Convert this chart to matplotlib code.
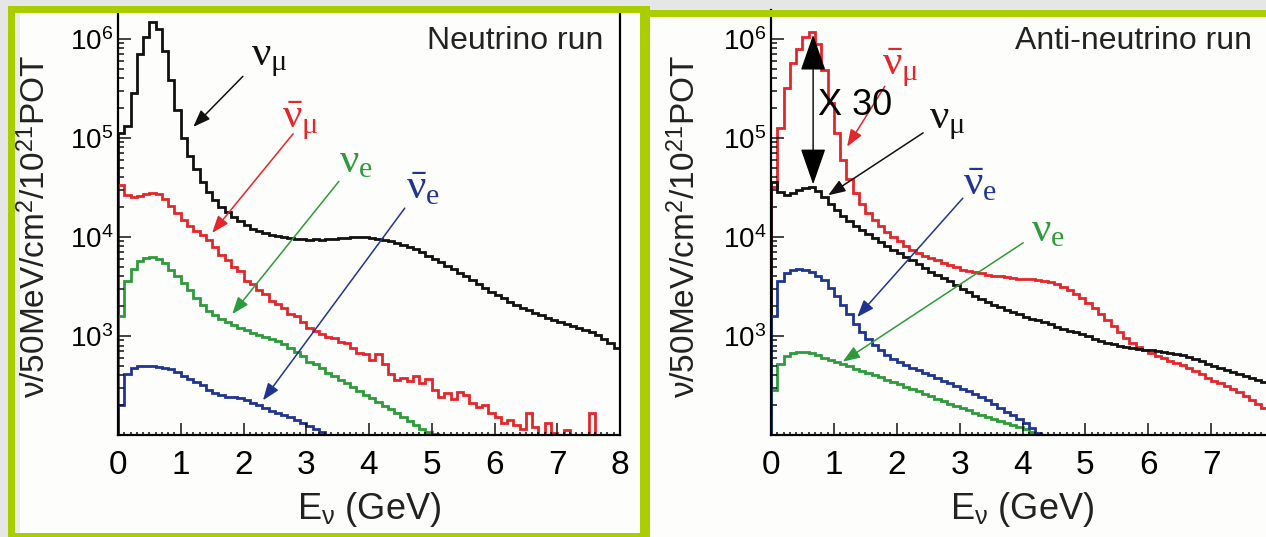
"""
Neutrino flux at the detector: neutrino-mode and anti-neutrino-mode runs.
"""
import matplotlib
matplotlib.use('Agg')
import matplotlib.pyplot as plt
import matplotlib.patches as mpatches
from matplotlib.ticker import MultipleLocator, LogLocator, NullFormatter
import numpy as np

# Colour palette
C_BLACK = "#111111"
C_RED   = "#E3262B"
C_GREEN = "#2F9A3C"
C_BLUE  = "#1F3590"
C_LIME  = "#AACD00"
C_BG    = "#E6E6E6"
C_PAGE  = "#FDFDFB"

plt.rcParams.update({
    'font.family': ['Liberation Sans', 'DejaVu Sans'],
    'mathtext.fontset': 'custom',
    'mathtext.rm': 'Liberation Serif',
    'mathtext.it': 'Liberation Serif:italic',
    'mathtext.bf': 'Liberation Serif:bold',
    'mathtext.sf': 'Liberation Sans',
})

# ── data: log10(flux per 50 MeV / cm^2 / 1e21 POT) in 0.1 GeV bins from 0 GeV;
#    bins past the end of a list are empty
E_EDGES = np.linspace(0.0, 8.0, 81)

# neutrino run
nu_numu = [5.05, 5.12, 5.45, 5.85, 6.02, 6.17, 6.10, 5.88, 5.58, 5.28,
           5.00, 4.82, 4.68, 4.55, 4.45, 4.37, 4.30, 4.25, 4.20, 4.16,
           4.12, 4.08, 4.06, 4.04, 4.02, 4.01, 4.00, 3.99, 3.98, 3.98,
           3.97, 3.98, 3.97, 3.98, 3.98, 3.99, 3.99, 4.00, 4.00, 4.00,
           3.99, 3.98, 3.97, 3.96, 3.94, 3.92, 3.90, 3.88, 3.85, 3.81,
           3.78, 3.75, 3.71, 3.68, 3.64, 3.60, 3.56, 3.52, 3.48, 3.44,
           3.41, 3.38, 3.34, 3.31, 3.28, 3.26, 3.23, 3.21, 3.18, 3.16,
           3.14, 3.12, 3.10, 3.08, 3.06, 3.04, 3.01, 2.97, 2.93, 2.88]
nu_numubar = [4.52, 4.42, 4.40, 4.41, 4.43, 4.44, 4.43, 4.38, 4.31, 4.24,
              4.17, 4.11, 4.06, 4.02, 3.97, 3.90, 3.82, 3.77, 3.70, 3.66,
              3.55, 3.52, 3.46, 3.42, 3.35, 3.32, 3.28, 3.22, 3.20, 3.14,
              3.08, 3.05, 3.02, 2.99, 2.98, 2.94, 2.93, 2.88, 2.83, 2.82,
              2.76, 2.82, 2.72, 2.62, 2.56, 2.58, 2.55, 2.60, 2.52, 2.57,
              2.45, 2.38, 2.42, 2.36, 2.43, 2.40, 2.32, 2.28, 2.30, 2.22,
              2.18, 2.12, 2.15, 2.10, 2.06, 2.22, 2.08, 2.00, 2.12, 2.02,
              1.90, 2.05, 1.90, 1.50, 1.50, 2.22, 1.50, 1.50, 1.50, 1.50]
nu_nue = [3.20, 3.55, 3.68, 3.76, 3.79, 3.80, 3.78, 3.74, 3.67, 3.60,
          3.53, 3.46, 3.38, 3.31, 3.25, 3.21, 3.17, 3.14, 3.11, 3.08,
          3.06, 3.03, 3.01, 2.99, 2.97, 2.95, 2.92, 2.88, 2.84, 2.80,
          2.74, 2.72, 2.68, 2.63, 2.60, 2.56, 2.52, 2.48, 2.44, 2.40,
          2.37, 2.33, 2.29, 2.26, 2.22, 2.18, 2.14, 2.10, 2.06, 2.03,
          2.01, 1.90]
nu_nuebar = [2.30, 2.62, 2.68, 2.70, 2.70, 2.70, 2.69, 2.68, 2.67, 2.64,
             2.60, 2.57, 2.54, 2.50, 2.45, 2.42, 2.40, 2.38, 2.38, 2.37,
             2.35, 2.32, 2.30, 2.27, 2.24, 2.22, 2.20, 2.18, 2.15, 2.12,
             2.09, 2.06, 2.03, 2.00]

# anti-neutrino run
anu_numu = [4.55, 4.45, 4.42, 4.44, 4.47, 4.49, 4.50, 4.46, 4.40, 4.33,
            4.27, 4.21, 4.16, 4.11, 4.07, 4.03, 3.99, 3.95, 3.91, 3.87,
            3.84, 3.80, 3.77, 3.73, 3.69, 3.65, 3.62, 3.58, 3.55, 3.51,
            3.47, 3.44, 3.40, 3.37, 3.34, 3.31, 3.29, 3.26, 3.24, 3.22,
            3.19, 3.17, 3.16, 3.14, 3.12, 3.09, 3.07, 3.05, 3.04, 3.02,
            3.00, 2.97, 2.95, 2.93, 2.92, 2.90, 2.89, 2.88, 2.87, 2.86,
            2.86, 2.85, 2.84, 2.83, 2.82, 2.81, 2.79, 2.77, 2.75, 2.72,
            2.70, 2.68, 2.66, 2.64, 2.62, 2.60, 2.58, 2.56, 2.54, 2.52]
anu_numubar = [4.50, 5.10, 5.50, 5.75, 5.90, 6.02, 6.07, 5.95, 5.68, 5.35,
               5.05, 4.78, 4.58, 4.44, 4.33, 4.24, 4.17, 4.11, 4.05, 4.00,
               3.96, 3.91, 3.87, 3.84, 3.81, 3.79, 3.77, 3.74, 3.72, 3.70,
               3.67, 3.66, 3.65, 3.64, 3.62, 3.61, 3.60, 3.59, 3.58, 3.57,
               3.57, 3.57, 3.56, 3.55, 3.54, 3.52, 3.49, 3.46, 3.42, 3.38,
               3.33, 3.28, 3.22, 3.16, 3.10, 3.04, 2.98, 2.93, 2.89, 2.86,
               2.83, 2.80, 2.78, 2.75, 2.73, 2.71, 2.68, 2.65, 2.62, 2.58,
               2.55, 2.52, 2.49, 2.46, 2.43, 2.39, 2.35, 2.31, 2.27, 2.23]
anu_nuebar = [3.20, 3.55, 3.64, 3.67, 3.68, 3.67, 3.65, 3.61, 3.56, 3.48,
              3.40, 3.31, 3.22, 3.12, 3.04, 2.97, 2.91, 2.86, 2.81, 2.77,
              2.74, 2.71, 2.68, 2.66, 2.63, 2.61, 2.58, 2.55, 2.52, 2.49,
              2.46, 2.44, 2.41, 2.38, 2.35, 2.31, 2.27, 2.23, 2.20, 2.16,
              2.12, 2.07, 2.02]
anu_nue = [2.45, 2.72, 2.80, 2.83, 2.84, 2.84, 2.83, 2.81, 2.78, 2.76,
           2.74, 2.72, 2.70, 2.67, 2.65, 2.63, 2.61, 2.59, 2.56, 2.53,
           2.51, 2.48, 2.46, 2.44, 2.41, 2.39, 2.36, 2.34, 2.31, 2.29,
           2.27, 2.25, 2.22, 2.20, 2.18, 2.16, 2.14, 2.12, 2.10, 2.08,
           2.06, 2.03, 2.00]

Y_MIN, Y_MAX = 1e2, 10 ** 6.29


def flux(log_vals):
    out = np.zeros(len(E_EDGES) - 1)
    out[:len(log_vals)] = 10.0 ** np.asarray(log_vals)
    return out


W, H = 1266, 537
fig = plt.figure(figsize=(W / 100, H / 100), dpi=100)
fig.patch.set_facecolor(C_BG)


def px_rect(x0, y0, x1, y1, color, z):
    """rectangle in image pixels (y measured from the top)"""
    fig.add_artist(mpatches.Rectangle((x0 / W, 1 - y1 / H), (x1 - x0) / W, (y1 - y0) / H,
                                      transform=fig.transFigure, facecolor=color,
                                      edgecolor='none', zorder=z))


# page background and the lime highlight frame
px_rect(8, 6, 650, 540, C_PAGE, -10)
px_rect(650, 10, 1270, 540, C_PAGE, -10)
px_rect(15, 13, 20, 533, "#ECECEC", -9)
px_rect(8, 6, 15, 540, C_LIME, 10)
px_rect(8, 6, 650, 13, C_LIME, 10)
px_rect(640, 6, 650, 540, C_LIME, 10)
px_rect(8, 533, 650, 540, C_LIME, 10)
px_rect(650, 10, 1270, 17, C_LIME, 10)

ax1 = fig.add_axes([118 / W, 1 - 435 / H, 502 / W, 425 / H])
ax2 = fig.add_axes([771 / W, 1 - 435 / H, 503 / W, 425 / H])

NU = r'$\mathrm{\nu}_{\mathrm{\mu}}$'
NUBAR = r'$\bar{\mathrm{\nu}}_{\mathrm{\mu}}$'
NUE = r'$\mathrm{\nu}_{\mathrm{e}}$'
NUEBAR = r'$\bar{\mathrm{\nu}}_{\mathrm{e}}$'


def style_axes(ax):
    ax.set_facecolor('none')
    ax.set_yscale('log')
    ax.set_xlim(0, 8)
    ax.set_ylim(Y_MIN, Y_MAX)
    ax.set_yticks([1e3, 1e4, 1e5, 1e6])
    ax.yaxis.set_minor_locator(LogLocator(base=10, subs=np.arange(2, 10)))
    ax.yaxis.set_minor_formatter(NullFormatter())
    ax.xaxis.set_major_locator(MultipleLocator(1))
    ax.xaxis.set_minor_locator(MultipleLocator(0.1))
    ax.tick_params(axis='both', which='both', direction='in', top=False, right=False,
                   color=C_BLACK, width=1.1)
    ax.tick_params(axis='y', which='major', length=9, labelsize=20, pad=3.5)
    ax.tick_params(axis='y', which='minor', length=4.5)
    ax.tick_params(axis='x', which='major', length=9, labelsize=24, pad=11)
    ax.tick_params(axis='x', which='minor', length=2.5)
    ax.spines['top'].set_visible(False)
    for s in ('left', 'bottom', 'right'):
        ax.spines[s].set_linewidth(1.6)
    ax.set_xlabel(r'E$_{\mathsf{\nu}}$ (GeV)', fontsize=26, color='#222222')
    ax.xaxis.set_label_coords(0.5, -0.13)
    ax.set_ylabel(r'$\mathsf{\nu}$/50MeV/cm$^{\mathsf{2}}$/10$^{\mathsf{21}}$POT',
                  fontsize=24, color='#222222')


def arrow(ax, tail, head, color):
    ax.annotate('', xy=(head[0], 10 ** head[1]), xytext=(tail[0], 10 ** tail[1]),
                arrowprops=dict(arrowstyle='-|>,head_length=0.8,head_width=0.3',
                                color=color, lw=1.1, shrinkA=0, shrinkB=0,
                                mutation_scale=13))


def label(ax, pos, text, color):
    ax.text(pos[0], 10 ** pos[1], text, color=color, fontsize=31, ha='center',
            va='center')


# ═══════════════ Panel 1: neutrino run ═══════════════
style_axes(ax1)
ax1.yaxis.set_label_coords(-0.131, 0.49)
for vals, col in [(nu_numu, C_BLACK), (nu_numubar, C_RED), (nu_nue, C_GREEN), (nu_nuebar, C_BLUE)]:
    ax1.stairs(np.clip(flux(vals), Y_MIN, None), E_EDGES, baseline=Y_MIN,
               color=col, lw=2.0)

label(ax1, (2.42, 5.80), NU, C_BLACK)
arrow(ax1, (1.99, 5.62), (1.20, 5.11), C_BLACK)
label(ax1, (2.90, 5.18), NUBAR, C_RED)
arrow(ax1, (2.79, 5.04), (1.50, 4.04), C_RED)
label(ax1, (3.79, 4.76), NUE, C_GREEN)
arrow(ax1, (3.52, 4.56), (1.82, 3.22), C_GREEN)
label(ax1, (4.86, 4.49), NUEBAR, C_BLUE)
arrow(ax1, (4.57, 4.29), (2.31, 2.35), C_BLUE)
ax1.text(0.966, 0.927, 'Neutrino run', transform=ax1.transAxes, ha='right',
         va='center', fontsize=23, color='#222222')

# ═══════════════ Panel 2: anti-neutrino run ═══════════════
style_axes(ax2)
ax2.yaxis.set_label_coords(-0.137, 0.49)
for vals, col in [(anu_numubar, C_RED), (anu_numu, C_BLACK), (anu_nue, C_GREEN), (anu_nuebar, C_BLUE)]:
    ax2.stairs(np.clip(flux(vals), Y_MIN, None), E_EDGES, baseline=Y_MIN,
               color=col, lw=2.0)

label(ax2, (2.05, 5.71), NUBAR, C_RED)
arrow(ax2, (1.81, 5.52), (1.21, 4.91), C_RED)
label(ax2, (2.81, 5.16), NU, C_BLACK)
arrow(ax2, (2.42, 5.05), (0.91, 4.42), C_BLACK)
label(ax2, (3.32, 4.53), NUEBAR, C_BLUE)
arrow(ax2, (3.05, 4.39), (1.37, 3.19), C_BLUE)
label(ax2, (4.40, 4.07), NUE, C_GREEN)
arrow(ax2, (4.01, 3.94), (1.14, 2.74), C_GREEN)

# ratio marker between the two muon-flavour peaks
ax2.annotate('', xy=(0.67, 10 ** 6.04), xytext=(0.67, 10 ** 4.53),
             arrowprops=dict(arrowstyle='<|-|>,head_length=1.15,head_width=0.4',
                             color='black', lw=1.0, shrinkA=0, shrinkB=0,
                             mutation_scale=20))
ax2.text(0.75, 10 ** 5.33, 'X 30', ha='left', va='center', fontsize=26, color='black')
ax2.text(0.956, 0.927, 'Anti-neutrino run', transform=ax2.transAxes, ha='right',
         va='center', fontsize=23, color='#222222')

plt.savefig('out.png', dpi=100, facecolor=fig.get_facecolor())
plt.close()
